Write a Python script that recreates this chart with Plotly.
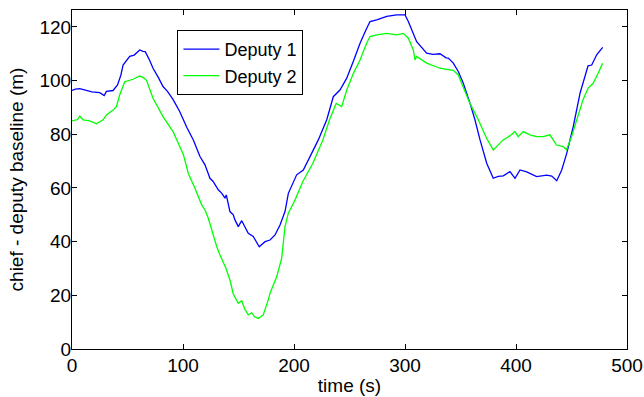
import plotly.graph_objects as go

# Deputy 1 (blue) - time (s), baseline (m)
t1 = [0, 3, 7, 12, 18, 25, 29, 31, 37, 41, 44, 46, 50, 52, 56, 61, 64, 66, 70, 73,
      78, 82, 86, 91, 97, 103.6, 109.3, 115.3, 119.8, 124.3, 127, 131.8, 135, 137.8, 139,
      142.3, 145.3, 146.8, 149.8, 152.9, 158.8, 163.3, 168.7, 173.9, 178.4, 182.9, 187.4,
      191.9, 194.9, 202.4, 208.4, 214.4, 221.9, 229.5, 235.4, 241.4, 247.5, 253.4, 259.5,
      265.5, 268.5, 274.5, 283.5, 292.5, 300, 303, 307.5, 310.5, 319.5, 325, 331.5, 337,
      339, 343.5, 348, 352.5, 358.6, 363, 367.6, 373.6, 379.5, 384, 388.6, 394.6, 399.1,
      403.6, 409.6, 418.6, 427.7, 432.2, 436.7, 441.2, 445.7, 451.6, 457.7, 463.7, 464.9,
      468.2, 472.7, 478.1]
y1 = [96.3, 96.8, 97, 96.5, 95.8, 95.5, 94.4, 96, 96.3, 98.4, 102, 105.8, 108, 109, 109.5,
      111.4, 110.9, 110.8, 107.5, 104.6, 101, 97.8, 96, 93, 88.5, 82.4, 77.9, 71.7, 68.6,
      63.6, 62.5, 59.3, 58, 56.2, 57.4, 51.2, 50, 48.1, 45.6, 47.8, 43.1, 41.9, 38.1, 40,
      40.6, 42.5, 46.2, 51.2, 58, 64.9, 66.7, 71.7, 77.9, 85.4, 94, 96.5, 100.9, 107.1,
      113.9, 119.5, 122, 122.6, 123.9, 124.5, 124.5, 122, 117.6, 114.5, 110.2, 109.8, 110,
      108.5, 108.4, 106.5, 103.4, 99, 91.5, 85.4, 77.9, 69.2, 63.6, 64.3, 64.5, 66.1, 63.6,
      66.7, 66, 64.2, 64.8, 64.4, 62.7, 66.7, 72.9, 82.9, 95.3, 103.4, 105.5, 105.8, 109.6,
      112.4]

# Deputy 2 (green)
t2 = [0, 5, 7, 10, 16, 22, 28, 31, 37, 40, 43, 47.5, 55, 61, 64, 67, 73, 82, 91, 94.3,
      100.3, 104.8, 110.8, 116.8, 119.8, 122.8, 127.3, 130.4, 133.3, 138.7, 142.3, 145.3,
      149.8, 152.9, 155.5, 158.8, 161.9, 164.5, 167.8, 172.3, 176.8, 178.4, 184.4, 188.9,
      191.9, 194.9, 200.9, 208, 217, 226, 232, 238, 243, 247.5, 253.5, 259.5, 265.5, 268.5,
      274.5, 283.5, 292.5, 298.5, 303, 307.5, 309, 310.5, 319.5, 328.5, 331.5, 337.5, 343.5,
      348, 352.5, 358.5, 366, 373.5, 379.5, 388.5, 394.5, 399, 402, 406.5, 412.5, 418.5,
      424.5, 430.5, 433.5, 436.5, 442.5, 445.5, 450, 454.5, 460.5, 465, 469.5, 474, 478]
y2 = [85, 85.5, 86.8, 85.4, 85, 83.9, 85.4, 87.2, 89, 90.3, 94.7, 99.6, 100.5, 101.7, 101.2,
      100.2, 93.4, 86.6, 81, 77.9, 72.5, 65.4, 59.9, 53.7, 51.8, 48.7, 41.9, 38.1, 35, 30.1,
      25.7, 20.5, 17, 18, 15, 12.7, 13.5, 12, 11.4, 12.7, 18.3, 20.8, 26.9, 33.8, 45.6, 50.6,
      55.5, 62.4, 69.2, 77.9, 85.4, 91.5, 90.3, 96.5, 102.7, 107.7, 114, 116.4, 117, 117.6,
      117, 117.6, 115.8, 111.4, 107.7, 109, 106.5, 105, 104.6, 104.2, 103.8, 102.1, 97.8,
      91.5, 85.4, 78.5, 74.2, 77.9, 79.4, 81, 79.1, 81, 79.8, 79.1, 79.1, 79.8, 77.9, 76,
      75.4, 74.2, 79.1, 85.4, 93, 97.2, 99, 102.7, 106.5]

x_ticks = [0, 100, 200, 300, 400, 500]
y_ticks = [0, 20, 40, 60, 80, 100, 120]

FONT = "Liberation Sans, Arial, Helvetica, sans-serif"

fig = go.Figure()
fig.add_trace(go.Scatter(x=t1, y=y1, mode="lines", name="Deputy 1",
                         line=dict(color="#0000FF", width=1.3)))
fig.add_trace(go.Scatter(x=t2, y=y2, mode="lines", name="Deputy 2",
                         line=dict(color="#00FF00", width=1.3)))

axis_common = dict(showgrid=False, zeroline=False, showline=True, linecolor="#000",
                   linewidth=1.2, mirror="ticks", ticks="inside", ticklen=5,
                   tickcolor="#000", tickwidth=1, automargin=False,
                   tickfont=dict(family=FONT, size=19, color="#000"))

fig.update_layout(
    width=644, height=397,
    margin=dict(l=72, r=17, t=10, b=48),
    paper_bgcolor="white", plot_bgcolor="white",
    font=dict(family=FONT, size=19, color="#000"),
    xaxis=dict(range=[0, 500], tickvals=x_ticks, ticklabelstandoff=-1,
               title=dict(text="time (s)", standoff=3, font=dict(size=19)),
               **axis_common),
    yaxis=dict(range=[0, 126.3], tickvals=y_ticks, ticklabelstandoff=-4,
               title=dict(text="chief - deputy baseline (m)", standoff=10, font=dict(size=19)),
               **axis_common),
    legend=dict(x=0.19, y=0.941, xanchor="left", yanchor="top",
                bordercolor="#000", borderwidth=1, bgcolor="white",
                itemwidth=36,
                font=dict(family=FONT, size=18, color="#000")),
    showlegend=True,
)

fig.write_html("out.html")
